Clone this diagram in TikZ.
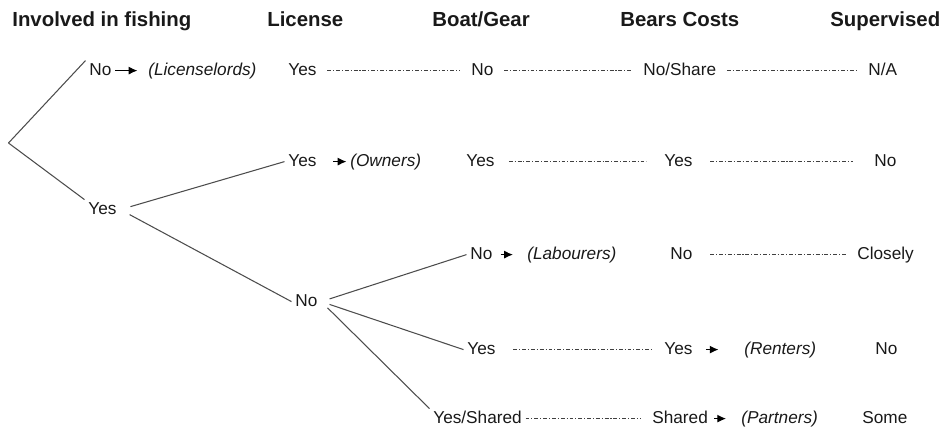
\documentclass[tikz,border=0pt]{standalone}
\usepackage{fontspec}
\setmainfont{Liberation Sans}
\usetikzlibrary{arrows.meta}

\begin{document}
\begin{tikzpicture}[x=0.02cm, y=-0.02cm,
  every node/.style={anchor=base west, xshift=-2pt, inner xsep=2pt, inner ysep=1pt, text=black!90},
  lbl/.style={font=\fontsize{9.8}{12}\selectfont, text height=7pt, text depth=2pt},
  role/.style={lbl, font=\fontsize{9.8}{12}\selectfont\itshape},
  hdr/.style={font=\fontsize{11.6}{14}\selectfont\bfseries},
  branch/.style={draw=black!70, line width=0.6pt},
  link/.style={draw=black!75, line width=0.55pt, dash pattern=on 2.2pt off 1.1pt on 0.6pt off 1.1pt,
    shorten <=4pt, shorten >=4pt},
  pt/.style={-{Latex[length=5pt,width=4.6pt]}, line width=0.7pt, black},
]
  \useasboundingbox (0,0) rectangle (942,429);

  % column headers
  \node[hdr] (hfish) at (12,27) {Involved in fishing};
  \node[hdr] (hlic) at (267,27) {License};
  \node[hdr] (hgear) at (432,27) {Boat/Gear};
  \node[hdr] (hcost) at (620,27) {Bears Costs};
  \node[hdr] (hsup) at (830,27) {Supervised};

  % not fishing
  \node[lbl] (fishno) at (89,75) {No};
  \node[role] (lords) at (148,75) {(Licenselords)};
  \node[lbl] (lic1) at (288,75) {Yes};
  \node[lbl] (gear1) at (471,75) {No};
  \node[lbl] (cost1) at (643,75) {No/Share};
  \node[lbl] (sup1) at (868,75) {N/A};

  % fishing
  \node[lbl] (fishyes) at (88,214) {Yes};
  \node[lbl] (licyes) at (288,166) {Yes};
  \node[role] (owners) at (350,166) {(Owners)};
  \node[lbl] (gear2) at (466,166) {Yes};
  \node[lbl] (cost2) at (664,166) {Yes};
  \node[lbl] (sup2) at (874,166) {No};

  \node[lbl] (licno) at (295,306) {No};
  \node[lbl] (gear3) at (470,259) {No};
  \node[role] (labour) at (527,259) {(Labourers)};
  \node[lbl] (cost3) at (670,259) {No};
  \node[lbl] (sup3) at (857,259) {Closely};

  \node[lbl] (gear4) at (467,354) {Yes};
  \node[lbl] (cost4) at (664,354) {Yes};
  \node[role] (renters) at (744,354) {(Renters)};
  \node[lbl] (sup4) at (875,354) {No};

  \node[lbl] (gear5) at (433,423) {Yes/Shared};
  \node[lbl] (cost5) at (652,423) {Shared};
  \node[role] (partners) at (741,423) {(Partners)};
  \node[lbl] (sup5) at (862,423) {Some};

  % tree
  \coordinate (root) at (12,143);
  \draw[branch] (root) -- (fishno.north west);
  \draw[branch] (root) -- (fishyes.north west);
  \draw[branch, shorten <=6pt] (fishyes.east) -- (licyes.west);
  \draw[branch, shorten <=6pt] (fishyes.east) -- (licno.west);
  \draw[branch, shorten <=5pt] (licno.east) -- (gear3.west);
  \draw[branch, shorten <=5pt] (licno.east) -- (gear4.west);
  \draw[branch, shorten <=5pt] (licno.east) -- (gear5.north west);

  % roles
  \draw[pt, shorten >=4pt] (fishno) -- (lords);
  \draw[pt, shorten <=7.5pt] (licyes) -- (owners);
  \draw[pt, shorten <=2.5pt, shorten >=6pt] (gear3) -- (labour);
  \draw[pt, shorten <=5.5pt, shorten >=12.5pt] (cost4) -- (renters);
  \draw[pt, shorten <=1.5pt, shorten >=6.5pt] (cost5) -- (partners);

  % dash-dot links
  \draw[link] (lic1) -- (gear1);
  \draw[link] (gear1) -- (cost1);
  \draw[link] (cost1) -- (sup1);
  \draw[link, shorten <=6pt, shorten >=8pt] (gear2) -- (cost2);
  \draw[link, shorten <=8pt, shorten >=10pt] (cost2) -- (sup2);
  \draw[link, shorten <=8pt] (cost3) -- (sup3);
  \draw[link, shorten <=8pt, shorten >=5pt] (gear4) -- (cost4);
  \draw[link, shorten <=0pt] (gear5) -- (cost5);
\end{tikzpicture}
\end{document}
